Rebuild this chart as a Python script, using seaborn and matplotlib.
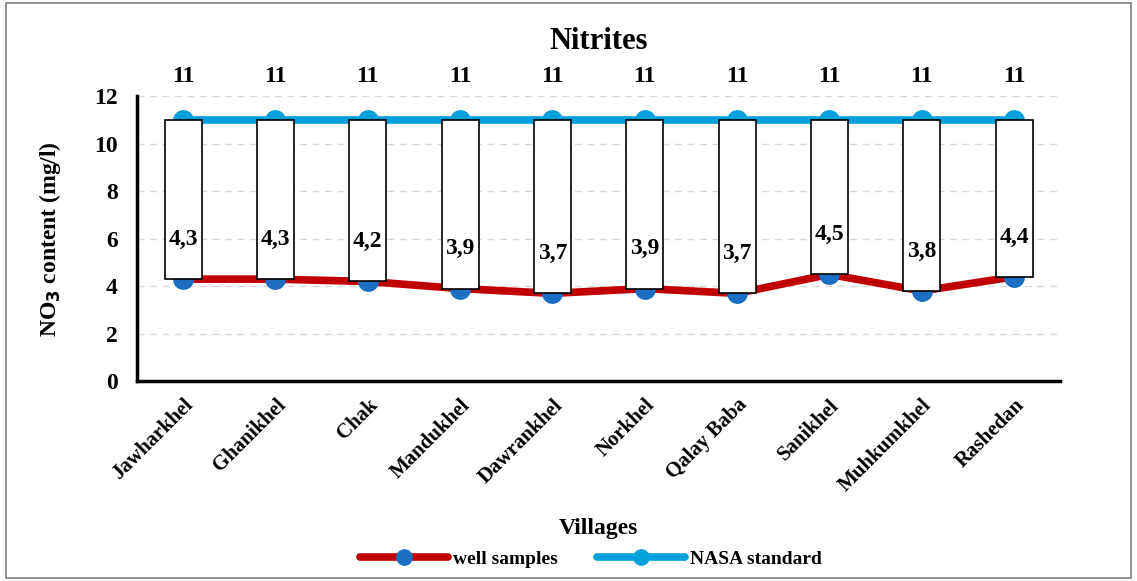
import numpy as np
import pandas as pd
import matplotlib
matplotlib.use("Agg")
import matplotlib.pyplot as plt
import seaborn as sns

villages = ["Jawharkhel", "Ghanikhel", "Chak", "Mandukhel", "Dawrankhel",
            "Norkhel", "Qalay Baba", "Sanikhel", "Muhkumkhel", "Rashedan"]
well = [4.3, 4.3, 4.2, 3.9, 3.7, 3.9, 3.7, 4.5, 3.8, 4.4]
nasa = [11, 11, 11, 11, 11, 11, 11, 11, 11, 11]

sns.set_theme(style="white")
plt.rcParams["font.family"] = ["Liberation Serif", "DejaVu Serif"]
plt.rcParams["font.weight"] = "bold"
plt.rcParams["text.color"] = "black"
plt.rcParams["axes.labelcolor"] = "black"
plt.rcParams["xtick.color"] = "black"
plt.rcParams["ytick.color"] = "black"

df = pd.DataFrame({"pos": np.arange(len(villages)), "well": well, "nasa": nasa})

fig = plt.figure(figsize=(11.37, 5.81), dpi=100)
ax = fig.add_axes([0.1205, 0.344, 0.812, 0.49])

# dashed gridlines
ax.set_ylim(0, 12)
ax.set_yticks([0, 2, 4, 6, 8, 10, 12])
ax.yaxis.grid(True, linestyle=(0, (5, 4)), color="#d9d9d9", linewidth=1)
ax.set_axisbelow(True)

sns.lineplot(data=df, x="pos", y="nasa", ax=ax, color="#00a0dc", linewidth=5.5,
             marker="o", markersize=15, markeredgewidth=0, markerfacecolor="#00a0dc",
             label="NASA standard", zorder=3)
sns.lineplot(data=df, x="pos", y="well", ax=ax, color="#c00000", linewidth=5.5,
             marker="o", markersize=15, markeredgewidth=0, markerfacecolor="#1b6ec2",
             label="well samples", zorder=3)

# up/down bars between the two series
ax.bar(df["pos"], df["nasa"] - df["well"], bottom=df["well"], width=0.4,
       color="white", edgecolor="black", linewidth=1.2, zorder=4)

for i in range(len(villages)):
    ax.annotate(f"{nasa[i]}", (i, nasa[i]), xytext=(0, 24), textcoords="offset points",
                ha="center", va="bottom", fontsize=17, fontweight="bold",
                annotation_clip=False, zorder=5)
    ax.annotate(f"{well[i]}".replace(".", ","), (i, well[i]), xytext=(0, 21),
                textcoords="offset points", ha="center", va="bottom",
                fontsize=17, fontweight="bold", zorder=5)

ax.set_xlim(-0.5, len(villages) - 0.5)
ax.set_xticks(df["pos"])
ax.set_xticklabels(villages, rotation=45, ha="right", rotation_mode="anchor",
                   fontsize=15, fontweight="bold")
ax.tick_params(axis="y", labelsize=17, length=0, pad=14)
ax.tick_params(axis="x", length=0, pad=10)
for t in ax.get_yticklabels():
    t.set_fontweight("bold")

for s in ["top", "right"]:
    ax.spines[s].set_visible(False)
for s in ["left", "bottom"]:
    ax.spines[s].set_color("black")
    ax.spines[s].set_linewidth(2.5)

ax.set_xlabel("Villages", fontsize=17, fontweight="bold", labelpad=16)
ax.set_ylabel("NO$_\\mathbf{3}$ content (mg/l)", fontsize=17, fontweight="bold", labelpad=22)
ax.set_title("Nitrites", fontsize=22, fontweight="bold", pad=34)

handles, labels = ax.get_legend_handles_labels()
order = [1, 0]
leg = fig.legend([handles[i] for i in order], [labels[i] for i in order],
                 loc="center", bbox_to_anchor=(0.52, 0.038), ncol=2, frameon=False,
                 prop={"size": 14, "weight": "bold"}, handlelength=4.5,
                 columnspacing=2.0, handletextpad=0.3, markerscale=0.8)
ax.get_legend().remove() if ax.get_legend() else None

# outer border
fig.patches.append(plt.Rectangle((0.005, 0.006), 0.99, 0.988, transform=fig.transFigure,
                                 fill=False, edgecolor="#7f7f7f", linewidth=1.2))

fig.savefig("out.png", dpi=100)
